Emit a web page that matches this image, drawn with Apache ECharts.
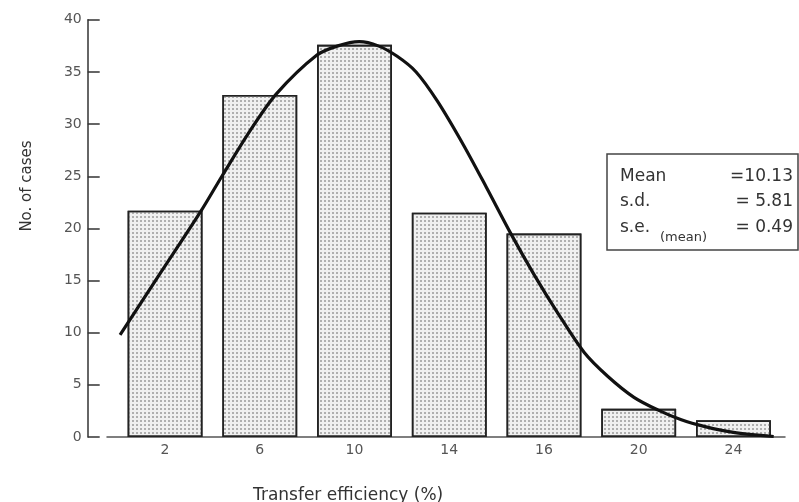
<!DOCTYPE html>
<html>
<head>
<meta charset="utf-8">
<script src="https://cdn.jsdelivr.net/npm/echarts@6/dist/echarts.min.js"></script>
<style>
  html, body { margin: 0; padding: 0; background: #fff; }
  #chart { width: 799px; height: 502px; }
</style>
</head>
<body>
<div id="chart"></div>
<script>
// Histogram classes (tick labels as printed) and counts per class
var categories = ['2', '6', '10', '14', '16', '20', '24'];
var counts = [21.7, 32.8, 37.6, 21.5, 19.5, 2.7, 1.6];

// Fitted normal curve, sampled as [transfer efficiency %, no. of cases]
var curveX = [0.1, 1.8, 3.5, 4.4, 5.6, 6.7, 8.4, 9.3, 10.2, 11.0, 11.8, 12.6, 13.5, 14.6, 15.6, 16.6, 17.6, 18.55, 19.7, 20.7, 21.8, 22.8, 23.8, 24.8, 26.0, 27.7];
var curveY = [9.8, 15.7, 21.6, 25.0, 29.4, 32.9, 36.6, 37.5, 37.9, 37.5, 36.5, 35.0, 32.2, 28.0, 23.8, 19.5, 15.5, 12.0, 8.1, 5.8, 3.8, 2.6, 1.65, 1.0, 0.45, 0.05];

// Y-axis ticks
var yMin = 0, yMax = 40, yStep = 5;

// Summary statistics
var statNames = ['Mean', 's.d.', 's.e.'];
var statSub = '(mean)';
var statValues = ['=10.13', '= 5.81', '= 0.49'];

var curveData = curveX.map(function (x, i) { return [x, curveY[i]]; });

var font = '"DejaVu Sans", sans-serif';
var labelColor = '#555';
var textColor = '#333';

var chart = echarts.init(document.getElementById('chart'), null, { renderer: 'canvas' });
chart.setOption({
  backgroundColor: '#fff',
  animation: false,
  title: {
    text: 'Transfer efficiency (%)',
    left: 248, top: 482,
    textStyle: { fontFamily: font, fontSize: 17, fontWeight: 'normal', color: textColor, lineHeight: 17 }
  },
  grid: [
    { left: 117.7, right: 18.2, top: 19.8, bottom: 65 },
    { left: 107, right: 14, top: 19.8, bottom: 65 }
  ],
  xAxis: [
    {
      type: 'category', gridIndex: 0, data: categories,
      axisLine: { show: false },
      axisTick: { show: true, inside: true, length: 7, alignWithLabel: true,
                  lineStyle: { color: '#555', width: 1.2 } },
      axisLabel: { margin: 6, fontFamily: font, fontSize: 14, color: labelColor },
      splitLine: { show: false }
    },
    { type: 'value', gridIndex: 0, min: 0, max: 28, show: false },
    {
      type: 'value', gridIndex: 1, min: 0, max: 1,
      axisLine: { show: true, lineStyle: { color: '#555', width: 1.5 } },
      axisTick: { show: false }, axisLabel: { show: false }, splitLine: { show: false }
    }
  ],
  yAxis: [
    {
      type: 'value', gridIndex: 0, min: yMin, max: yMax, interval: yStep,
      offset: 30,
      axisLine: { show: true, onZero: false, lineStyle: { color: '#333', width: 1.5 } },
      axisTick: { show: true, inside: true, length: 12, lineStyle: { color: '#333', width: 1.5 } },
      axisLabel: { margin: 6, fontFamily: font, fontSize: 14, color: labelColor },
      splitLine: { show: false }
    },
    { type: 'value', gridIndex: 1, show: false }
  ],
  graphic: [
    {
      type: 'text', x: 27, y: 186, rotation: Math.PI / 2,
      style: { text: 'No. of cases', font: '15px ' + font, fill: textColor,
               align: 'center', verticalAlign: 'middle' }
    },
    {
      type: 'rect', x: 607, y: 154, z: 10,
      shape: { width: 191, height: 96 },
      style: { fill: '#fff', stroke: '#444', lineWidth: 1.5 }
    },
    { type: 'text', x: 620, y: 177, z: 11, style: { text: statNames[0], font: '17px ' + font, fill: textColor, verticalAlign: 'middle' } },
    { type: 'text', x: 620, y: 202, z: 11, style: { text: statNames[1], font: '17px ' + font, fill: textColor, verticalAlign: 'middle' } },
    { type: 'text', x: 620, y: 228, z: 11, style: { text: statNames[2], font: '17px ' + font, fill: textColor, verticalAlign: 'middle' } },
    { type: 'text', x: 660, y: 238, z: 11, style: { text: statSub, font: '13px ' + font, fill: textColor, verticalAlign: 'middle' } },
    { type: 'text', x: 793, y: 177, z: 11, style: { text: statValues[0], font: '17px ' + font, fill: textColor, align: 'right', verticalAlign: 'middle' } },
    { type: 'text', x: 793, y: 202, z: 11, style: { text: statValues[1], font: '17px ' + font, fill: textColor, align: 'right', verticalAlign: 'middle' } },
    { type: 'text', x: 793, y: 228, z: 11, style: { text: statValues[2], font: '17px ' + font, fill: textColor, align: 'right', verticalAlign: 'middle' } }
  ],
  series: [
    {
      type: 'bar', xAxisIndex: 0, yAxisIndex: 0, data: counts,
      barWidth: '79%', z: 2,
      itemStyle: {
        color: '#f0f0f0', borderColor: '#222', borderWidth: 1.6,
        decal: { symbol: 'circle', symbolSize: 1, dashArrayX: [1.4, 1.6], dashArrayY: [1.4, 1.6],
                 color: '#9a9a9a', rotation: 0 }
      },
      emphasis: { disabled: true }
    },
    {
      type: 'line', xAxisIndex: 1, yAxisIndex: 0, data: curveData,
      smooth: 0.3, symbol: 'none', z: 5,
      lineStyle: { color: '#111', width: 3.2 }
    }
  ]
});
</script>
</body>
</html>
